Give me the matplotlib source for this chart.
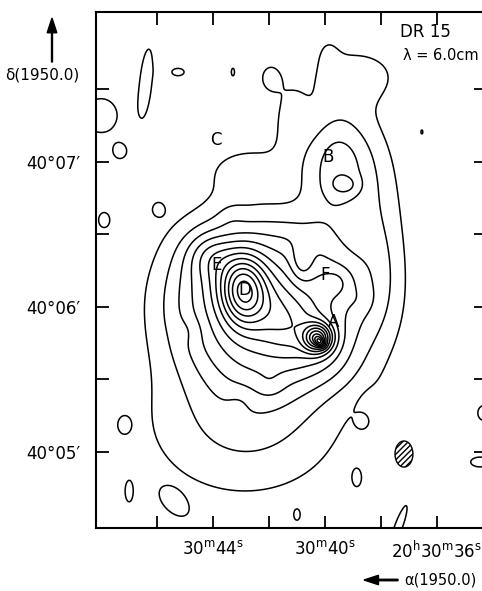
#!/usr/bin/env python3
import numpy as np
import matplotlib
matplotlib.use("Agg")
import matplotlib.pyplot as plt
from matplotlib.patches import Ellipse, FancyArrow


# source components:
# RA (s past 20h30m), Dec (arcmin past 40deg), sigma along/across PA (arcsec),
# PA (deg), peak, profile order (1 = gaussian, >1 = flatter top)
COMP_RA = [42.04, 41.89, 42.93, 42.86, 44.11, 40.25, 40.18, 40.82, 38.04,
           39.54, 39.29, 38.93, 39.89, 41.25, 42.68, 39.54,
           44.82, 41.96, 43.04, 38.75, 43.39, 38.46]
COMP_DEC = [6.048, 5.979, 6.117, 5.220, 6.358, 5.786, 5.758, 6.310, 6.462,
            6.979, 6.841, 7.600, 7.772, 7.290, 6.945, 6.172,
            5.841, 5.462, 5.359, 6.048, 6.634, 5.290]
COMP_SA = [33.0, 22.7, 6.2, 28.9, 6.2, 4.1, 1.7, 3.3, 8.3,
           10.3, 4.1, 14.5, 3.7, 5.0, 14.5, 5.0,
           4.1, 4.1, 4.1, 4.1, 4.1, 3.3]
COMP_SB = [29.8, 9.1, 9.9, 22.7, 6.2, 4.1, 1.2, 5.8, 28.9,
           16.5, 2.9, 9.1, 5.8, 10.3, 8.3, 5.0,
           4.1, 4.1, 4.1, 4.1, 4.1, 6.0]
COMP_PA = [0, -40, 0, 0, 0, 0, -45, 0, 0,
           0, 0, 0, 0, 0, 0, 0,
           0, 0, 0, 0, 0, 0]
COMP_PEAK = [5.5, 2.5, 5.0, 2.3, 1.2, 6.0, 3.0, -1.5, 1.5,
             3.4, 1.2, 1.35, 0.6, 1.3, 1.3, 1.2,
             -0.4, 0.5, -0.4, 0.4, 0.4, -0.35]
COMP_ORDER = [1.5, 1, 1, 1, 1, 1, 1, 1, 1,
              1, 1, 1, 1, 1, 1, 1,
              1, 1, 1, 1, 1, 1]

# small isolated patches above the lowest contour
ISL_RA = [47.32, 45.25, 43.29, 46.39, 48.00, 41.96, 45.96, 47.89, 47.18,
          47.00, 45.39, 41.00, 38.86, 38.64, 37.39, 34.32, 34.46, 36.54]
ISL_DEC = [7.069, 7.620, 7.620, 7.565, 7.320, 7.579, 6.676, 6.600, 5.186,
           4.724, 4.648, 4.565, 4.820, 5.214, 4.476, 5.269, 4.931, 7.207]
ISL_SA = [2.9, 4.1, 1.2, 16.5, 8.0, 3.7, 2.5, 3.3, 2.1,
          1.7, 5.8, 1.2, 1.7, 2.1, 12.4, 4.1, 6.2, 0.8]
ISL_SB = [3.3, 2.5, 2.9, 3.1, 8.5, 5.0, 2.9, 4.5, 2.9,
          4.5, 3.3, 2.1, 3.3, 2.5, 2.1, 5.0, 3.3, 1.7]
ISL_PA = [0, 0, 0, 85, 0, 0, 0, 0, 0,
          0, -45, 0, 0, 0, 70, 0, 0, 0]
ISL_PEAK = [1.25, 1.2, 1.15, 1.35, 1.4, 1.3, 1.2, 1.25, 1.15,
            1.2, 1.3, 1.1, 1.2, 1.15, 1.3, 1.2, 1.2, 1.05]

LEVELS = list(range(1, 19))

LABELS = ["A", "B", "C", "D", "E", "F"]
LABEL_RA = [39.71, 39.89, 43.89, 42.86, 43.86, 40.00]
LABEL_DEC = [5.896, 7.034, 7.152, 6.117, 6.290, 6.220]

BEAM = (37.18, 4.986, 0.64, 0.18)  # RA, Dec, width (s), height (arcmin)

XTICKS = [46, 44, 42, 40, 38, 36]
XLABELS = ["", r"$\mathregular{30^{m}44^{s}}$", "", r"$\mathregular{30^{m}40^{s}}$",
           "", r"$\mathregular{20^{h}30^{m}36^{s}}$"]
YTICKS = [5.0, 5.5, 6.0, 6.5, 7.0, 7.5]
YLABELS = ["40°05′", "", "40°06′", "", "40°07′", ""]


def field(ra, dec, cra, cdec, sa, sb, pa, peak, order=None):
    if order is None:
        order = [1] * len(cra)
    z = np.zeros_like(ra)
    for r0, d0, a, b, p, amp, n in zip(cra, cdec, sa, sb, pa, peak, order):
        x = -(ra - r0) * 11.47
        y = (dec - d0) * 60.0
        t = np.radians(p)
        u = x * np.cos(t) + y * np.sin(t)
        v = -x * np.sin(t) + y * np.cos(t)
        q = (u / a) ** 2 + (v / b) ** 2
        z += amp * np.exp(-0.5 * q ** n)
    return z


def main():
    plt.rcParams['font.family'] = 'DejaVu Sans'
    fig = plt.figure(figsize=(4.82, 5.91), dpi=100)
    ax = fig.add_axes([96 / 482, 63 / 591, 390 / 482, 516 / 591])

    ra = np.linspace(33.5, 49.0, 700)
    dec = np.linspace(4.3, 8.2, 600)
    RA, DEC = np.meshgrid(ra, dec)
    Z = field(RA, DEC, COMP_RA, COMP_DEC, COMP_SA, COMP_SB, COMP_PA,
              COMP_PEAK, COMP_ORDER)
    Z += field(RA, DEC, ISL_RA, ISL_DEC, ISL_SA, ISL_SB, ISL_PA, ISL_PEAK)

    ax.contour(RA, DEC, Z, levels=LEVELS, colors='k', linewidths=1.1)

    for lab, r, d in zip(LABELS, LABEL_RA, LABEL_DEC):
        ax.text(r, d, lab, fontsize=12, ha='center', va='center')

    ax.add_patch(Ellipse((BEAM[0], BEAM[1]), BEAM[2], BEAM[3], facecolor='white',
                         edgecolor='k', hatch='//////', linewidth=1.0))

    ax.set_xlim(48.18, 34.25)
    ax.set_ylim(4.476, 8.034)
    ax.set_xticks(XTICKS)
    ax.set_xticklabels(XLABELS)
    ax.set_yticks(YTICKS)
    ax.set_yticklabels(YLABELS)
    ax.tick_params(direction='in', length=9, width=1.3, top=True, right=True,
                   labelsize=12)
    ax.tick_params(axis='x', pad=9)
    ax.tick_params(axis='y', pad=11)
    for s in ax.spines.values():
        s.set_linewidth(1.5)

    fig.text(400 / 482, 1 - 32 / 591, "DR 15", fontsize=12, va='center')
    fig.text(403 / 482, 1 - 55 / 591, "λ = 6.0cm", fontsize=10.5, va='center')

    fig.text(5 / 482, 1 - 75 / 591, "δ(1950.0)", fontsize=11, va='center')
    fig.patches.append(FancyArrow(
        52 / 482, 1 - 62 / 591, 0, 44 / 591, width=0.002, head_width=0.02,
        head_length=0.025, color='k', transform=fig.transFigure, figure=fig,
        length_includes_head=True))
    fig.text(404 / 482, 1 - 580 / 591, "α(1950.0)", fontsize=10.5, va='center')
    fig.patches.append(FancyArrow(
        398 / 482, 1 - 580 / 591, -34 / 482, 0, width=0.0025, head_width=0.016,
        head_length=0.03, color='k', transform=fig.transFigure, figure=fig,
        length_includes_head=True))

    fig.savefig("out.png", dpi=100)


if __name__ == '__main__':
    main()
